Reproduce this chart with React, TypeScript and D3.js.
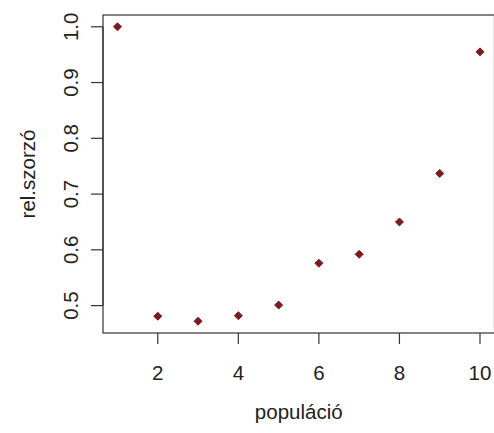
import React from "react";
import * as d3 from "d3";

// Relative multiplier by population size
const populacio = [1, 2, 3, 4, 5, 6, 7, 8, 9, 10];
const relSzorzo = [1.0, 0.481, 0.472, 0.482, 0.501, 0.576, 0.592, 0.65, 0.737, 0.955];
const xTicks = [2, 4, 6, 8, 10];
const yTicks = [0.5, 0.6, 0.7, 0.8, 0.9, 1.0];

const W = 494;
const H = 433;
const box = { left: 103, right: 494.5, top: 15, bottom: 333 };
const FONT = "'Liberation Sans', Arial, sans-serif";
const fs = 20.5;
const axisColor = "#333";
const textColor = "#222";
const pointColor = "#7d1a1f";

// R-style axis ranges: data extent padded by 4% on each side
function padded(vals: number[]): [number, number] {
  const [lo, hi] = d3.extent(vals) as [number, number];
  const p = (hi - lo) * 0.04;
  return [lo - p, hi + p];
}

export default function App() {
  const x = d3.scaleLinear().domain(padded(populacio)).range([box.left, box.right]);
  const y = d3.scaleLinear().domain(padded(relSzorzo)).range([box.bottom, box.top]);
  const r = 4;
  return (
    <svg width={W} height={H} style={{ display: "block", position: "absolute", left: 0, top: 0 }}>
      <rect x={0} y={0} width={W} height={H} fill="#fff" />
      <rect
        x={box.left}
        y={box.top}
        width={box.right - box.left}
        height={box.bottom - box.top}
        fill="none"
        stroke={axisColor}
        strokeWidth={1.2}
      />
      {/* x axis */}
      {xTicks.map((t) => (
        <g key={"x" + t}>
          <line x1={x(t)} x2={x(t)} y1={box.bottom} y2={box.bottom + 11} stroke={axisColor} strokeWidth={1.2} />
          <text x={x(t)} y={380} textAnchor="middle" fontFamily={FONT} fontSize={fs} fill={textColor}>
            {t}
          </text>
        </g>
      ))}
      {/* y axis */}
      <line x1={box.left} x2={box.left} y1={y(yTicks[0])} y2={y(yTicks[yTicks.length - 1])} stroke={axisColor} strokeWidth={1.2} />
      {yTicks.map((t) => (
        <g key={"y" + t}>
          <line x1={box.left - 12} x2={box.left} y1={y(t)} y2={y(t)} stroke={axisColor} strokeWidth={1.2} />
          <text
            transform={`translate(78,${y(t)}) rotate(-90)`}
            textAnchor="middle"
            fontFamily={FONT}
            fontSize={fs}
            fill={textColor}
          >
            {t.toFixed(1)}
          </text>
        </g>
      ))}
      <text x={(box.left + box.right) / 2} y={419} textAnchor="middle" fontFamily={FONT} fontSize={fs} fill={textColor}>
        populáció
      </text>
      <text
        transform={`translate(35,${(box.top + box.bottom) / 2}) rotate(-90)`}
        textAnchor="middle"
        fontFamily={FONT}
        fontSize={fs}
        fill={textColor}
      >
        rel.szorzó
      </text>
      {populacio.map((p, i) => {
        const cx = x(p);
        const cy = y(relSzorzo[i]);
        return (
          <path
            key={p}
            d={`M${cx},${cy - r}L${cx + r},${cy}L${cx},${cy + r}L${cx - r},${cy}Z`}
            fill={pointColor}
            stroke={pointColor}
            strokeWidth={1}
            strokeLinejoin="round"
          />
        );
      })}
    </svg>
  );
}
